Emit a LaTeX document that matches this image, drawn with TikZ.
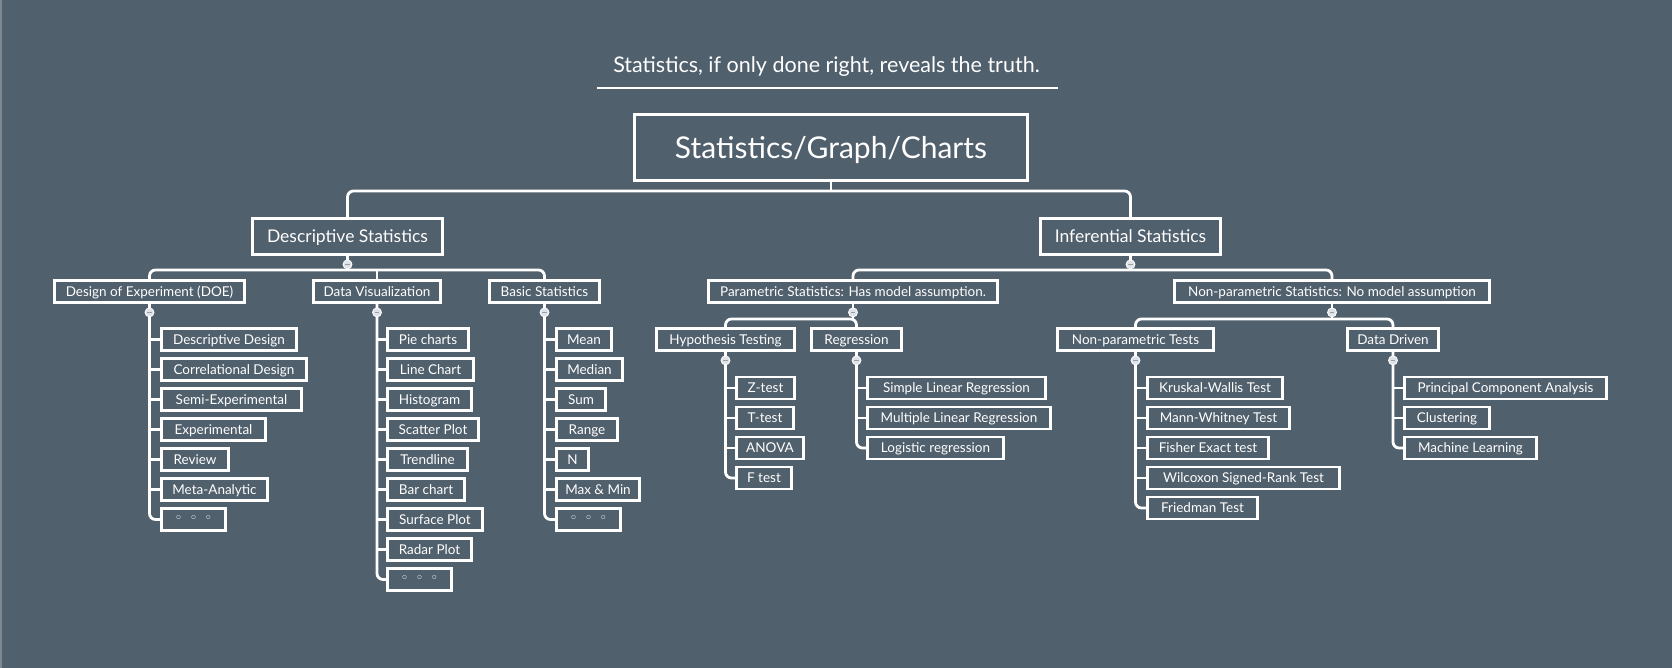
\documentclass[tikz,border=0pt]{standalone}
\usepackage{fontspec}
\setmainfont{Lato}
\newfontfamily\dvfont{DejaVu Sans}
\usetikzlibrary{calc}
\definecolor{bg}{RGB}{81,96,109}
\definecolor{knobfill}{RGB}{222,227,233}
\tikzset{
  boxbase/.style={draw=white, line width=2.8pt, text=white, inner sep=0pt, anchor=center, text depth=0pt},
  leaf/.style={boxbase, minimum height=22pt, font=\fontsize{13.5}{16}\selectfont},
  lvlone/.style={boxbase, minimum height=36pt, font=\fontsize{17.5}{20}\selectfont},
  rootbox/.style={boxbase, minimum height=66pt, minimum width=393pt, font=\fontsize{30}{33}\selectfont},
  conn/.style={draw=white, line width=2.8pt, rounded corners=6pt},
  knob/.style={circle, minimum size=9pt, inner sep=0pt, fill=knobfill, draw=white, line width=0.8pt,
    path picture={\draw[line width=1.3pt, bg!60!white] ([xshift=-2.3pt]path picture bounding box.center) -- ([xshift=2.3pt]path picture bounding box.center);}},
}
% name, left, right, center y, text
\newcommand{\lf}[5]{\node[leaf, minimum width={(#3-#2-3)*1pt}] (#1) at ({(#2+#3)/2},#4) {#5};}
\newcommand{\threedots}{{\dvfont ◦\hskip7pt◦\hskip7pt◦}}
\begin{document}
\begin{tikzpicture}[x=1pt,y=-1pt]
\path[fill=bg] (0,0) rectangle (1672,668);
\path[fill=bg!75!white] (0,0) rectangle (2,668);
\useasboundingbox (0,0) rectangle (1672,668);

% tagline
\node[text=white, font=\fontsize{21.5}{24}\selectfont, inner sep=0pt, anchor=base] (tag) at (826.5,73) {Statistics, if only done right, reveals the truth.};
\coordinate (ul1) at (597,88);
\coordinate (ul2) at (1058,88);
\draw[white, line width=2.8pt] (ul1) -- (ul2);

% root and level 1
\node[rootbox] (root) at (831,147.5) {Statistics/Graph/Charts};
\node[lvlone, minimum width=190pt] (desc) at (347.5,236.5) {Descriptive Statistics};
\node[lvlone, minimum width=180pt] (inf) at (1130.5,236.5) {Inferential Statistics};

% level 2
\lf{doe}{53}{246}{291.5}{Design of Experiment (DOE)}
\lf{dv}{312}{442}{291.5}{Data Visualization}
\lf{bs}{488}{601}{291.5}{Basic Statistics}
\lf{par}{707}{999}{291.5}{Parametric Statistics: Has model assumption.}
\lf{npar}{1173}{1491}{291.5}{Non-parametric Statistics: No model assumption}

% level 3
\lf{hyp}{655}{796}{339.5}{Hypothesis Testing}
\lf{reg}{810}{903}{339.5}{Regression}
\lf{npt}{1056}{1215}{339.5}{Non-parametric Tests}
\lf{dd}{1346}{1440}{339.5}{Data Driven}

% DOE children
\lf{doe1}{160}{298}{339.5}{Descriptive Design}
\lf{doe2}{160}{308}{369.5}{Correlational Design}
\lf{doe3}{160}{303}{399.5}{Semi-Experimental}
\lf{doe4}{160}{267}{429.5}{Experimental}
\lf{doe5}{160}{230}{459.5}{Review}
\lf{doe6}{160}{269}{489.5}{Meta-Analytic}
\lf{doe7}{160}{227}{519.5}{\threedots}

% DV children
\lf{dv1}{386}{470}{339.5}{Pie charts}
\lf{dv2}{386}{475}{369.5}{Line Chart}
\lf{dv3}{386}{473}{399.5}{Histogram}
\lf{dv4}{386}{480}{429.5}{Scatter Plot}
\lf{dv5}{386}{469}{459.5}{Trendline}
\lf{dv6}{386}{466}{489.5}{Bar chart}
\lf{dv7}{386}{484}{519.5}{Surface Plot}
\lf{dv8}{386}{473}{549.5}{Radar Plot}
\lf{dv9}{386}{453}{579.5}{\threedots}

% BS children
\lf{bs1}{555}{613}{339.5}{Mean}
\lf{bs2}{555}{624}{369.5}{Median}
\lf{bs3}{555}{607}{399.5}{Sum}
\lf{bs4}{555}{619}{429.5}{Range}
\lf{bs5}{555}{590}{459.5}{N}
\lf{bs6}{555}{641}{489.5}{Max \& Min}
\lf{bs7}{555}{622}{519.5}{\threedots}

% Hypothesis children
\lf{hyp1}{735}{796}{388}{Z-test}
\lf{hyp2}{735}{795}{418}{T-test}
\lf{hyp3}{735}{805}{448}{ANOVA}
\lf{hyp4}{735}{793}{478}{F test}

% Regression children
\lf{reg1}{866}{1047}{388}{Simple Linear Regression}
\lf{reg2}{866}{1052}{418}{Multiple Linear Regression}
\lf{reg3}{866}{1005}{448}{Logistic regression}

% Non-parametric tests children
\lf{npt1}{1146}{1284}{388}{Kruskal-Wallis Test}
\lf{npt2}{1146}{1291}{418}{Mann-Whitney Test}
\lf{npt3}{1146}{1270}{448}{Fisher Exact test}
\lf{npt4}{1146}{1341}{478}{Wilcoxon Signed-Rank Test}
\lf{npt5}{1146}{1259}{508}{Friedman Test}

% Data driven children
\lf{dd1}{1403}{1608}{388}{Principal Component Analysis}
\lf{dd2}{1403}{1491}{418}{Clustering}
\lf{dd3}{1403}{1538}{448}{Machine Learning}

% junction coordinates
\coordinate (r1) at (831,191);
\coordinate (d1) at (347.5,270);
\coordinate (i1) at (1130.5,270);
\coordinate (p1) at (853,319);
\coordinate (n1) at (1332,319);

% tree connectors
\draw[conn] (desc.north) |- (r1) -| (inf.north);
\draw[conn] (root.south) -- (r1);
\draw[conn] (doe.north) |- (bs.north |- d1) -- (bs.north);
\draw[conn] (desc.south) -- (d1);
\draw[conn] (dv.north) -- (dv.north |- d1);
\draw[conn] (par.north) |- (npar.north |- i1) -- (npar.north);
\draw[conn] (inf.south) -- (i1);
\draw[conn] (hyp.north) |- (reg.north |- p1) -- (reg.north);
\draw[conn] (par.south) -- (p1);
\draw[conn] (npt.north) |- (dd.north |- n1) -- (dd.north);
\draw[conn] (npar.south) -- (n1);

% list connectors
\draw[conn] (doe.south) |- (doe7.west);
\foreach \i in {1,...,6} \draw[conn] (doe.south |- doe\i.west) -- (doe\i.west);
\draw[conn] (dv.south) |- (dv9.west);
\foreach \i in {1,...,8} \draw[conn] (dv.south |- dv\i.west) -- (dv\i.west);
\draw[conn] (bs.south) |- (bs7.west);
\foreach \i in {1,...,6} \draw[conn] (bs.south |- bs\i.west) -- (bs\i.west);
\draw[conn] (hyp.south) |- (hyp4.west);
\foreach \i in {1,...,3} \draw[conn] (hyp.south |- hyp\i.west) -- (hyp\i.west);
\draw[conn] (reg.south) |- (reg3.west);
\foreach \i in {1,...,2} \draw[conn] (reg.south |- reg\i.west) -- (reg\i.west);
\draw[conn] (npt.south) |- (npt5.west);
\foreach \i in {1,...,4} \draw[conn] (npt.south |- npt\i.west) -- (npt\i.west);
\draw[conn] (dd.south) |- (dd3.west);
\foreach \i in {1,...,2} \draw[conn] (dd.south |- dd\i.west) -- (dd\i.west);

% collapse knobs
\foreach \n in {desc,inf,doe,dv,bs,par,npar,hyp,reg,npt,dd}
  \node[knob] (k\n) at ([yshift=-8.5pt]\n.south) {};
\end{tikzpicture}
\end{document}
